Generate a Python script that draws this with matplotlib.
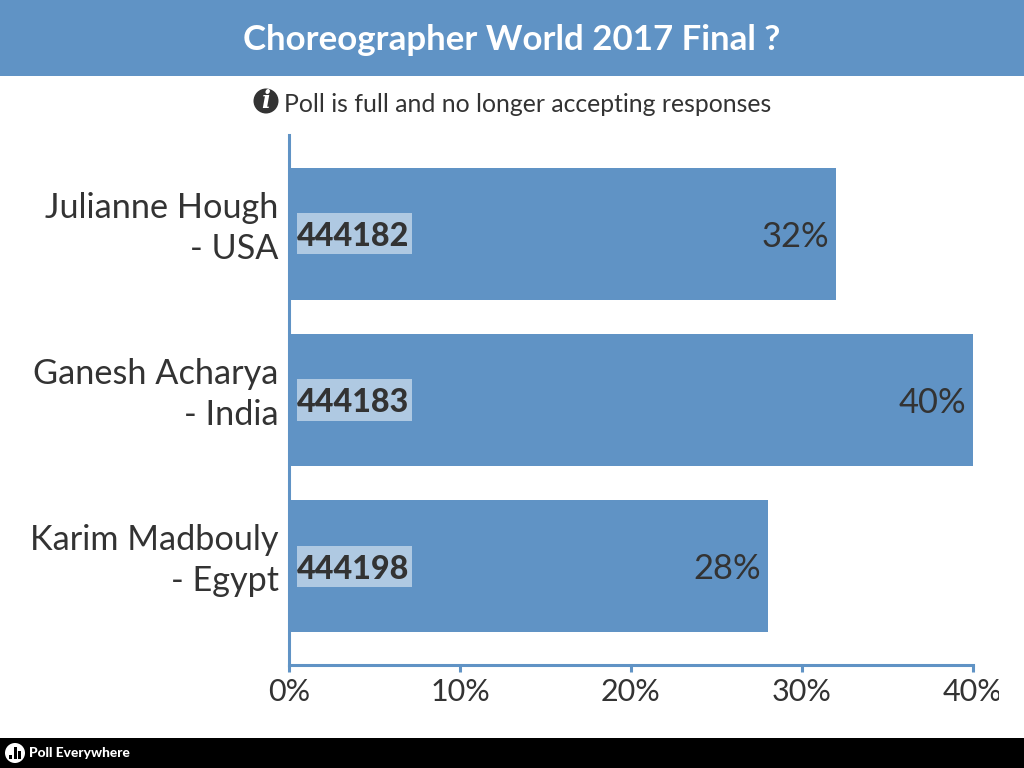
import matplotlib
matplotlib.use('Agg')
import matplotlib.pyplot as plt
from matplotlib.patches import Circle, Rectangle
from matplotlib.transforms import Bbox, ScaledTranslation

# Data

title = 'Choreographer World 2017 Final ?'
notice = 'Poll is full and no longer accepting responses'
names = ['Julianne Hough\n- USA', 'Ganesh Acharya\n- India', 'Karim Madbouly\n- Egypt']
codes = ['444182', '444183', '444198']
percent = [32, 40, 28]
xticks = [0, 10, 20, 30, 40]

# Sizes & colours

blue = '#6093c5'
dark = '#333333'
fontname = 'Lato'
plt.rcParams['font.family'] = [fontname, 'DejaVu Sans']

W, H = 1024, 768
fig = plt.figure(figsize=(W/100, H/100), dpi=100)

# Page furniture, drawn in pixel coordinates

bg = fig.add_axes([0, 0, 1, 1])
bg.set_xlim(0, W)
bg.set_ylim(H, 0)
bg.axis('off')
bg.add_patch(Rectangle((0, 0), W, 76, color=blue, lw=0))
bg.add_patch(Rectangle((0, 738), W, 30, color='black', lw=0))
bg.text(512, 39.5, title, color='white', fontsize=25.1, fontweight='bold', ha='center', va='center')
bg.add_patch(Circle((266, 101), 12.5, color=dark, lw=0))
bg.text(266, 101, 'i', color='white', fontsize=17, fontweight='bold', style='italic',
        family='DejaVu Serif', ha='center', va='center')
bg.text(528, 104, notice, color=dark, fontsize=17.85, ha='center', va='center')

# Logo
bg.add_patch(Circle((15, 753), 10, color='white', lw=0))
for x0, y0, w in [(9, 755, 3), (13.5, 747, 3), (18, 751, 3)]:
    bg.add_patch(Rectangle((x0, y0), w, 759-y0, color='black', lw=0))
bg.text(29, 753, 'Poll Everywhere', color='white', fontsize=9.9, fontweight='black', ha='left', va='center')

# Chart

left, right, top, bottom = 289, 973, 135, 665
ax = fig.add_axes([left/W, 1-bottom/H, (right-left)/W, (bottom-top)/H])
ax.patch.set_alpha(0)

pos = list(range(len(names)))
ax.barh(pos, percent, height=0.795, color=blue, linewidth=0)
# pale plate behind the response codes
ax.barh(pos, 6.73, left=0.44, height=0.247, color='white', alpha=0.5, linewidth=0)
ax.set_xlim(0, 40)
ax.set_ylim(2.596, -0.596)

for s in ['top', 'right']:
    ax.spines[s].set_visible(False)
for s in ['left', 'bottom']:
    ax.spines[s].set_color(blue)
    ax.spines[s].set_linewidth(2.2)

ax.set_yticks(pos)
ax.set_yticklabels(names, fontsize=24.7, color=dark, linespacing=1.36, ha='right', multialignment='right')
ax.tick_params(axis='y', length=0, pad=7.5)

up = ScaledTranslation(0, 13/100, fig.dpi_scale_trans)
for lab in ax.get_yticklabels():
    lab.set_transform(lab.get_transform() + up)

ax.set_xticks(xticks)
ax.set_xticklabels([f'{t}%' for t in xticks], fontsize=22, color=dark)
ax.tick_params(axis='x', length=5, width=2.2, color=blue, pad=4.5)

# the last tick label runs off the chart area in the original
clip = Bbox.from_extents(0, 0, 999, H)
for lab in ax.get_xticklabels():
    lab.set_clip_box(clip)
    lab.set_clip_on(True)

for p, c, v in zip(pos, codes, percent):
    ax.annotate(c, (0, p), xytext=(8, -3), textcoords='offset pixels', fontsize=23.2, fontweight='black',
                color=dark, va='center', ha='left')
    ax.annotate(f'{v}%', (v, p), xytext=(-7, -3), textcoords='offset pixels', fontsize=24.8,
                color=dark, va='center', ha='right')

fig.savefig('out.png', dpi=100)
